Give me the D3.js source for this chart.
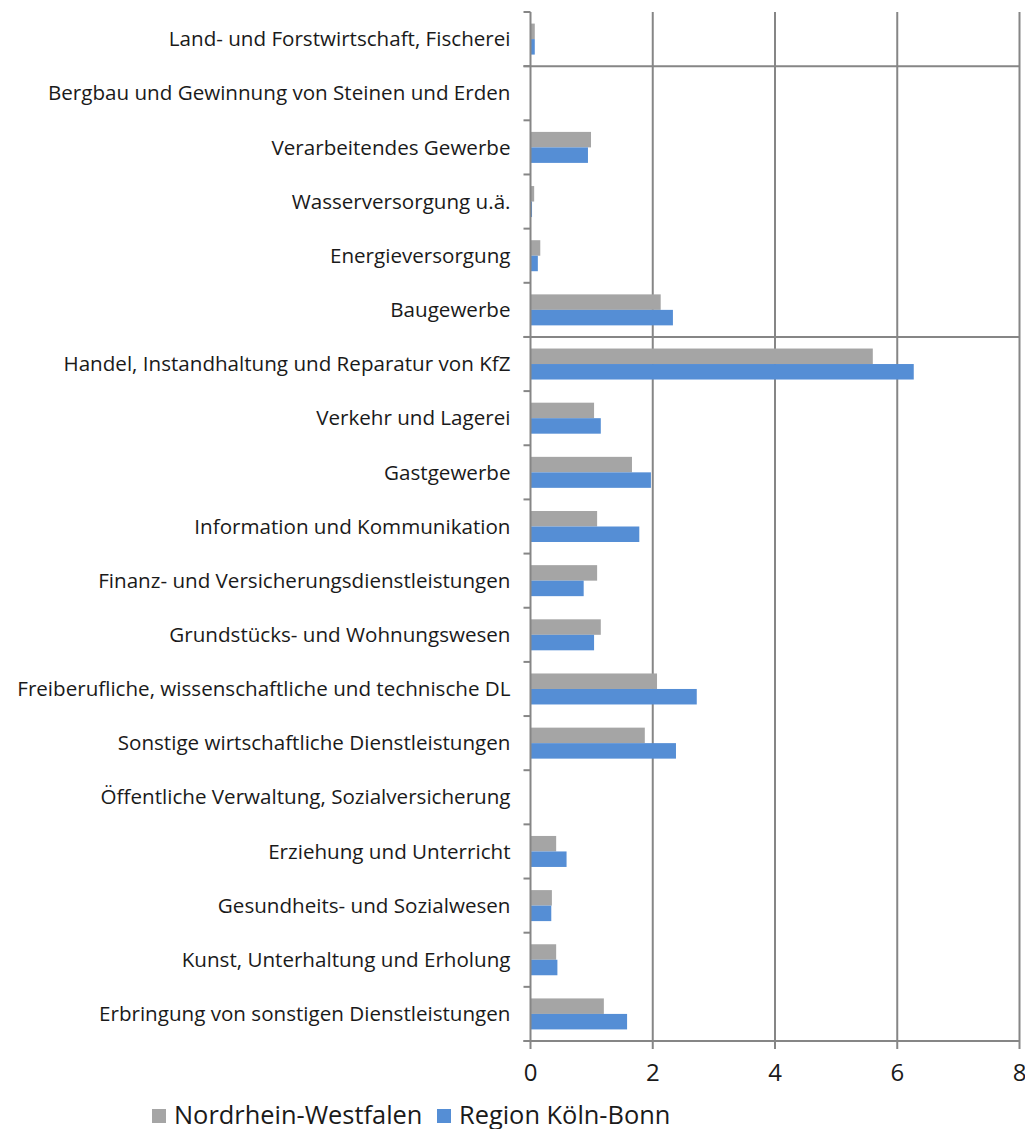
<!DOCTYPE html>
<html>
<head>
<meta charset="utf-8">
<script src="https://cdn.jsdelivr.net/npm/d3@7"></script>
<style>
  body { margin: 0; background: #fff; }
  svg text { font-family: "Open Sans", "Noto Sans", sans-serif; fill: #1a1a1a; }
</style>
</head>
<body>
<svg width="1025" height="1129"></svg>
<script>
const categories = [
  'Land- und Forstwirtschaft, Fischerei',
  'Bergbau und Gewinnung von Steinen und Erden',
  'Verarbeitendes Gewerbe',
  'Wasserversorgung u.ä.',
  'Energieversorgung',
  'Baugewerbe',
  'Handel, Instandhaltung und Reparatur von KfZ',
  'Verkehr und Lagerei',
  'Gastgewerbe',
  'Information und Kommunikation',
  'Finanz- und Versicherungsdienstleistungen',
  'Grundstücks- und Wohnungswesen',
  'Freiberufliche, wissenschaftliche und technische DL',
  'Sonstige wirtschaftliche Dienstleistungen',
  'Öffentliche Verwaltung, Sozialversicherung',
  'Erziehung und Unterricht',
  'Gesundheits- und Sozialwesen',
  'Kunst, Unterhaltung und Erholung',
  'Erbringung von sonstigen Dienstleistungen'
];
const nrw = [0.07, 0, 0.99, 0.06, 0.16, 2.13, 5.60, 1.04, 1.66, 1.09, 1.09, 1.15, 2.07, 1.87, 0, 0.42, 0.35, 0.42, 1.20];
const koelnBonn = [0.07, 0, 0.94, 0.025, 0.12, 2.33, 6.27, 1.15, 1.97, 1.78, 0.87, 1.04, 2.72, 2.38, 0, 0.59, 0.34, 0.44, 1.58];
const seriesNames = ['Nordrhein-Westfalen', 'Region Köln-Bonn'];
const xTicks = [0, 2, 4, 6, 8];
// category boundaries that carry a horizontal line in the original
const hLines = ['Bergbau und Gewinnung von Steinen und Erden', 'Handel, Instandhaltung und Reparatur von KfZ'];

const colors = ['#a5a5a5', '#558ed5'];
const gridColor = '#868686';

const svg = d3.select('svg');
const margin = {top: 12, right: 5, bottom: 88, left: 530.5};
const width = +svg.attr('width') - margin.left - margin.right;
const height = +svg.attr('height') - margin.top - margin.bottom;
const g = svg.append('g')
  .attr('transform', `translate(${margin.left},${margin.top})`);

const x = d3.scaleLinear().domain([0, 8]).range([0, width - 0.5]);
const y = d3.scaleBand().domain(categories).range([0, height]).paddingInner(0).paddingOuter(0);
const barH = 15.5;
const groupH = barH * 2;

// vertical gridlines
g.selectAll('.vgrid')
  .data(xTicks.slice(1))
  .enter().append('line')
    .attr('x1', d => x(d)).attr('x2', d => x(d))
    .attr('y1', 0).attr('y2', height)
    .attr('stroke', gridColor).attr('stroke-width', 2);

// odd horizontal lines
g.selectAll('.hgrid')
  .data(hLines)
  .enter().append('line')
    .attr('x1', -7).attr('x2', x(8))
    .attr('y1', d => y(d)).attr('y2', d => y(d))
    .attr('stroke', gridColor).attr('stroke-width', 2);

const data = categories.map((c, i) => ({cat: c, vals: [nrw[i], koelnBonn[i]]}));

const grp = g.selectAll('.grp')
  .data(data)
  .enter().append('g')
    .attr('transform', d => `translate(0,${y(d.cat) + (y.bandwidth() - groupH) / 2})`);

grp.selectAll('rect')
  .data(d => d.vals)
  .enter().append('rect')
    .attr('x', x(0))
    .attr('y', (d, i) => i * barH)
    .attr('width', d => x(d) - x(0))
    .attr('height', barH)
    .attr('fill', (d, i) => colors[i]);

// left axis
g.append('line')
  .attr('x1', 0).attr('x2', 0).attr('y1', 0).attr('y2', height)
  .attr('stroke', gridColor).attr('stroke-width', 2);
const boundaries = d3.range(categories.length + 1).map(i => i * y.step());
g.selectAll('.ytick')
  .data(boundaries)
  .enter().append('line')
    .attr('x1', -7).attr('x2', 0)
    .attr('y1', d => d).attr('y2', d => d)
    .attr('stroke', gridColor).attr('stroke-width', 2);
g.selectAll('.ylabel')
  .data(categories)
  .enter().append('text')
    .attr('x', -20)
    .attr('y', d => y(d) + y.bandwidth() / 2)
    .attr('dy', '0.35em')
    .attr('text-anchor', 'end')
    .style('font-size', '20.6px')
    .text(d => d);

// bottom axis
g.append('line')
  .attr('x1', -7).attr('x2', x(8)).attr('y1', height).attr('y2', height)
  .attr('stroke', gridColor).attr('stroke-width', 2);
g.selectAll('.xtick')
  .data(xTicks)
  .enter().append('line')
    .attr('x1', d => x(d)).attr('x2', d => x(d))
    .attr('y1', height).attr('y2', height + 8)
    .attr('stroke', gridColor).attr('stroke-width', 2);
g.selectAll('.xlabel')
  .data(xTicks)
  .enter().append('text')
    .attr('x', d => x(d))
    .attr('y', height + 40)
    .attr('text-anchor', 'middle')
    .style('font-size', '24px')
    .text(d => d);

// legend
const legendX = [152, 437];
const legend = svg.selectAll('.legend')
  .data(seriesNames)
  .enter().append('g')
    .attr('transform', (d, i) => `translate(${legendX[i]},1109)`);
legend.append('rect')
  .attr('width', 14).attr('height', 14)
  .attr('fill', (d, i) => colors[i]);
legend.append('text')
  .attr('x', 22).attr('y', 15)
  .style('font-size', '25.4px')
  .text(d => d);
</script>
</body>
</html>
